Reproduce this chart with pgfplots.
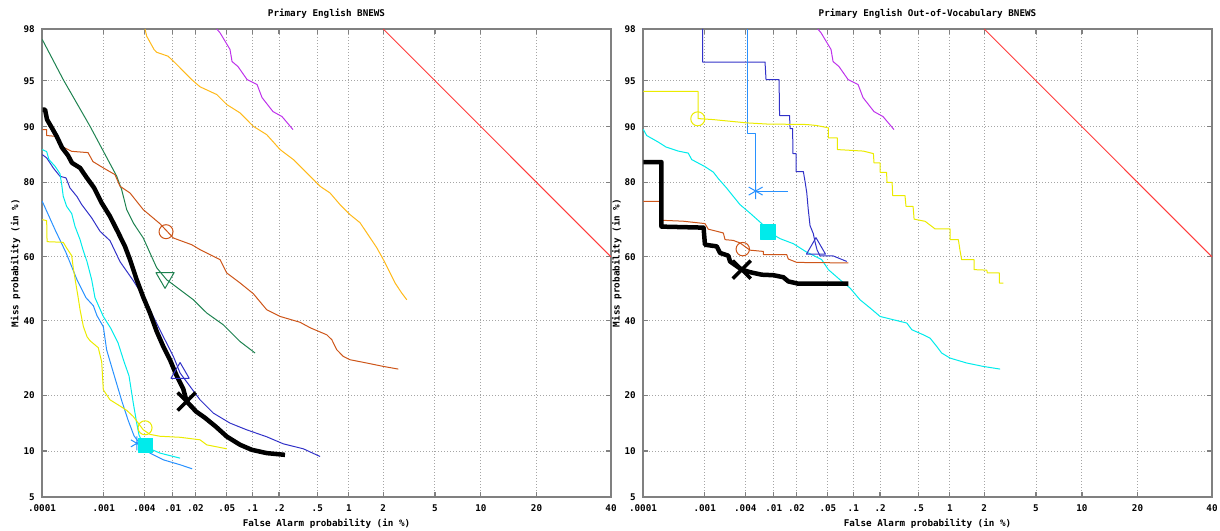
\documentclass[border=0pt]{standalone}
\usepackage{fontspec}
\setmainfont{DejaVu Sans Mono}
\usepackage{pgfplots}
\pgfplotsset{compat=1.18}
\usepackage{pgfplotstable}

% DET curves: both axes are normal deviates (probit of the probability)
\definecolor{framegray}{RGB}{128,128,128}
\definecolor{gridgray}{RGB}{165,165,165}
\definecolor{chance}{RGB}{255,60,60}
\definecolor{detpurple}{RGB}{190,50,235}
\definecolor{detorange}{RGB}{255,185,25}
\definecolor{detgreen}{RGB}{30,130,80}
\definecolor{detbrown}{RGB}{205,85,25}
\definecolor{detnavy}{RGB}{50,50,200}
\definecolor{detcyan}{RGB}{0,235,235}
\definecolor{detsky}{RGB}{40,145,255}
\definecolor{detyellow}{RGB}{235,235,0}

\newcommand\detfont{\fontsize{9.3}{11}\selectfont\bfseries}

\pgfplotstableread{
x y
-2.054 2.054
-0.253 0.253
}\chanceline

\pgfplotstableread{
x y
-3.371 2.054
-3.345 2.024
-3.266 1.892
-3.250 1.797
-3.203 1.757
-3.131 1.654
-3.052 1.615
-3.013 1.512
-2.926 1.401
-2.855 1.362
-2.768 1.259
}\purpledet

\pgfplotsset{
  detaxis/.style={
    width=569bp, height=468bp, scale only axis, anchor=south west,
    xmin=-4.753, xmax=-0.253, ymin=-1.645, ymax=2.054,
    xtick={-4.753,-4.265,-3.944,-3.719,-3.540,-3.291,-3.090,-2.878,-2.576,-2.326,-2.054,-1.645,-1.282,-0.842,-0.253},
    xticklabels={.0001,.001,.004,.01,.02,.05,.1,.2,.5,1,2,5,10,20,40},
    ytick={-1.645,-1.282,-0.842,-0.253,0.253,0.842,1.282,1.645,2.054},
    yticklabels={5,10,20,40,60,80,90,95,98},
    grid=major,
    grid style={draw=gridgray, line width=1bp, dash pattern=on 1bp off 2bp},
    axis line style={draw=framegray, line width=1.5bp},
    tick align=inside, major tick length=5bp,
    tick style={draw=framegray, line width=1.2bp},
    xticklabel style={font=\detfont, anchor=base, inner sep=0pt, yshift=-14bp},
    yticklabel style={font=\detfont, anchor=east, inner sep=0pt, xshift=-7bp},
    xlabel={False Alarm probability (in \%)},
    ylabel={Miss probability (in \%)},
    every axis x label/.style={at={(axis description cs:0.5,0)}, anchor=base, yshift=-29bp, font=\detfont},
    every axis y label/.style={at={(axis description cs:-0.0413,0.5)}, rotate=90, anchor=base, font=\detfont},
    title style={at={(axis description cs:0.5,1)}, anchor=base, yshift=7bp, font=\detfont},
    every axis plot/.append style={line join=round},
  },
}

\begin{document}
\begin{tikzpicture}

% ---------------- left panel ----------------
\begin{axis}[detaxis, at={(42bp,34bp)}, title={Primary English BNEWS}]
\addplot[chance, line width=1bp] table {\chanceline};
\addplot[detpurple, line width=1bp] table {\purpledet};
\addplot[detorange, line width=1bp] coordinates {
(-3.938,2.054) (-3.925,1.997) (-3.867,1.892) (-3.846,1.870) (-3.756,1.839)
(-3.701,1.787) (-3.569,1.654) (-3.503,1.597) (-3.371,1.536) (-3.292,1.457)
(-3.187,1.391) (-3.082,1.285) (-2.976,1.219) (-2.870,1.101) (-2.765,1.022)
(-2.659,0.917) (-2.554,0.811) (-2.475,0.758) (-2.396,0.666) (-2.317,0.587)
(-2.238,0.523) (-2.185,0.444) (-2.106,0.326) (-2.053,0.231) (-2.000,0.126)
(-1.961,0.047) (-1.908,-0.033) (-1.868,-0.086)};
\addplot[detgreen, line width=1bp] coordinates {
(-4.751,1.971) (-4.585,1.654) (-4.373,1.285) (-4.162,0.890) (-4.123,0.784)
(-4.083,0.626) (-4.031,0.521) (-3.952,0.402) (-3.899,0.284) (-3.846,0.167)
(-3.767,0.072) (-3.661,-0.007) (-3.556,-0.086) (-3.450,-0.191) (-3.319,-0.284)
(-3.187,-0.416) (-3.068,-0.507)};
\addplot[detbrown, line width=1bp] coordinates {
(-4.751,1.259) (-4.716,1.259) (-4.716,1.212) (-4.650,1.206) (-4.597,1.127)
(-4.518,1.087) (-4.389,1.077) (-4.350,1.006) (-4.268,0.956) (-4.176,0.903)
(-4.136,0.811) (-4.057,0.758) (-3.952,0.626) (-3.820,0.515) (-3.714,0.402)
(-3.569,0.349) (-3.503,0.310) (-3.345,0.231) (-3.292,0.126) (-3.187,0.047)
(-3.082,-0.038) (-2.976,-0.165) (-2.870,-0.218) (-2.712,-0.264) (-2.633,-0.307)
(-2.501,-0.363) (-2.461,-0.402) (-2.422,-0.481) (-2.370,-0.534) (-2.317,-0.560)
(-2.185,-0.586) (-2.053,-0.613) (-1.935,-0.634)};
\addplot[detnavy, line width=1bp] coordinates {
(-4.751,1.061) (-4.716,1.035) (-4.690,0.996) (-4.664,0.956) (-4.611,0.890)
(-4.563,0.877) (-4.532,0.798) (-4.476,0.729) (-4.439,0.666) (-4.360,0.561)
(-4.294,0.455) (-4.215,0.381) (-4.136,0.215) (-4.031,0.065) (-3.952,-0.060)
(-3.873,-0.218) (-3.794,-0.376) (-3.714,-0.534) (-3.661,-0.665) (-3.582,-0.771)
(-3.503,-0.877) (-3.398,-0.982) (-3.266,-1.061) (-3.134,-1.114) (-2.976,-1.169)
(-2.844,-1.225) (-2.686,-1.264) (-2.554,-1.325)};
\addplot[detcyan, line width=1bp] coordinates {
(-4.751,1.101) (-4.716,1.085) (-4.698,1.022) (-4.650,0.969) (-4.611,0.911)
(-4.597,0.824) (-4.585,0.732) (-4.558,0.652) (-4.518,0.595) (-4.492,0.494)
(-4.452,0.389) (-4.429,0.310) (-4.397,0.215) (-4.360,0.072) (-4.334,-0.070)
(-4.268,-0.218) (-4.207,-0.315) (-4.152,-0.426) (-4.104,-0.576) (-4.065,-0.687)
(-4.031,-0.903) (-4.004,-1.061) (-3.986,-1.154) (-3.954,-1.225) (-3.899,-1.264)
(-3.820,-1.298) (-3.661,-1.338)};
\addplot[detsky, line width=1bp] coordinates {
(-4.751,0.692) (-4.650,0.468) (-4.563,0.286) (-4.476,0.072) (-4.405,-0.070)
(-4.347,-0.133) (-4.318,-0.212) (-4.268,-0.299) (-4.242,-0.481) (-4.207,-0.600)
(-4.160,-0.758) (-4.120,-0.892) (-4.073,-1.035) (-4.025,-1.162) (-3.978,-1.225)
(-3.899,-1.298) (-3.794,-1.351) (-3.661,-1.390) (-3.566,-1.422)};
\addplot[detyellow, line width=1bp] coordinates {
(-4.751,0.547) (-4.716,0.539) (-4.713,0.373) (-4.585,0.368) (-4.555,0.318)
(-4.518,0.262) (-4.506,0.167) (-4.484,0.033) (-4.468,-0.062) (-4.452,-0.165)
(-4.426,-0.297) (-4.397,-0.378) (-4.373,-0.410) (-4.308,-0.465) (-4.281,-0.576)
(-4.268,-0.798) (-4.215,-0.877) (-4.152,-0.916) (-4.083,-0.960) (-4.031,-1.009)
(-3.952,-1.114) (-3.899,-1.150) (-3.820,-1.165) (-3.661,-1.173) (-3.503,-1.193)
(-3.450,-1.233) (-3.292,-1.264)};
\addplot[black, line width=4.5bp] coordinates {
(-4.749,1.417) (-4.729,1.417) (-4.713,1.338) (-4.682,1.285) (-4.637,1.206)
(-4.595,1.117) (-4.547,1.054) (-4.516,0.996) (-4.452,0.956) (-4.405,0.887)
(-4.342,0.800) (-4.281,0.679) (-4.215,0.573) (-4.149,0.442) (-4.097,0.336)
(-4.057,0.231) (-4.004,0.072) (-3.952,-0.066) (-3.899,-0.191) (-3.846,-0.336)
(-3.794,-0.455) (-3.741,-0.560) (-3.688,-0.687) (-3.636,-0.790) (-3.609,-0.890)
(-3.535,-0.969) (-3.464,-1.019) (-3.377,-1.090) (-3.292,-1.167) (-3.187,-1.232)
(-3.094,-1.272) (-2.976,-1.298) (-2.831,-1.312)};
% decision points
\addplot[only marks, mark=triangle, mark size=10.5bp, mark options={detgreen, line width=1bp, rotate=180}] coordinates {(-3.780,0.087)};
\addplot[only marks, mark=o, mark size=7bp, mark options={detbrown, line width=1bp}] coordinates {(-3.772,0.452)};
\addplot[only marks, mark=triangle, mark size=10.5bp, mark options={detnavy, line width=1bp}] coordinates {(-3.661,-0.665)};
\addplot[only marks, mark=asterisk, mark size=7bp, mark options={detsky, line width=1bp}] coordinates {(-4.002,-1.221)};
\addplot[only marks, mark=square*, mark size=7bp, mark options={detcyan, fill=detcyan}] coordinates {(-3.934,-1.237)};
\addplot[only marks, mark=o, mark size=7bp, mark options={detyellow, line width=1bp}] coordinates {(-3.938,-1.098)};
\addplot[only marks, mark=x, mark size=12.7bp, mark options={black, line width=3.5bp}] coordinates {(-3.609,-0.890)};
\end{axis}

% ---------------- right panel ----------------
\begin{axis}[detaxis, at={(643bp,34bp)}, title={Primary English Out-of-Vocabulary BNEWS}]
\addplot[chance, line width=1bp] table {\chanceline};
\addplot[detpurple, line width=1bp] table {\purpledet};
\addplot[detnavy, line width=1bp] coordinates {
(-4.281,2.054) (-4.281,1.793) (-3.788,1.793) (-3.780,1.654) (-3.677,1.654)
(-3.673,1.370) (-3.594,1.370) (-3.590,1.267) (-3.570,1.267) (-3.567,1.069)
(-3.543,1.069) (-3.543,0.927) (-3.485,0.927) (-3.472,0.852) (-3.458,0.761)
(-3.446,0.626) (-3.432,0.500) (-3.406,0.436) (-3.393,0.373) (-3.377,0.310)
(-3.353,0.260) (-3.248,0.260) (-3.142,0.217)};
\addplot[detsky, line width=1bp] coordinates {
(-3.926,2.054) (-3.926,1.227) (-3.862,1.227) (-3.862,0.773) (-3.604,0.773)};
\addplot[detyellow, line width=1bp] coordinates {
(-4.751,1.560) (-4.318,1.560) (-4.318,1.346) (-4.199,1.338) (-3.933,1.312)
(-3.775,1.303) (-3.458,1.299) (-3.379,1.291) (-3.287,1.273) (-3.287,1.193)
(-3.216,1.193) (-3.216,1.101) (-3.010,1.089) (-2.931,1.069) (-2.926,0.996)
(-2.878,0.996) (-2.878,0.921) (-2.827,0.921) (-2.823,0.842) (-2.783,0.842)
(-2.778,0.737) (-2.681,0.737) (-2.673,0.652) (-2.617,0.652) (-2.609,0.551)
(-2.522,0.534) (-2.443,0.474) (-2.325,0.474) (-2.325,0.389) (-2.259,0.389)
(-2.246,0.304) (-2.233,0.231) (-2.135,0.231) (-2.135,0.152) (-2.034,0.148)
(-2.030,0.126) (-1.935,0.126) (-1.935,0.046) (-1.903,0.046)};
\addplot[detcyan, line width=1bp] coordinates {
(-4.751,1.261) (-4.724,1.212) (-4.632,1.160) (-4.571,1.121) (-4.474,1.089)
(-4.395,1.073) (-4.368,1.022) (-4.263,0.966) (-4.197,0.923) (-4.157,0.871)
(-4.091,0.796) (-4.039,0.731) (-3.986,0.666) (-3.907,0.599) (-3.814,0.516)
(-3.764,0.452) (-3.669,0.397) (-3.564,0.357) (-3.458,0.290) (-3.340,0.231)
(-3.287,0.152) (-3.195,0.072) (-3.116,0.007) (-3.037,-0.086) (-2.957,-0.151)
(-2.878,-0.218) (-2.773,-0.244) (-2.720,-0.257) (-2.667,-0.270) (-2.627,-0.323)
(-2.536,-0.363) (-2.483,-0.389) (-2.430,-0.455) (-2.391,-0.507) (-2.325,-0.547)
(-2.193,-0.586) (-2.062,-0.613) (-1.929,-0.634)};
\addplot[detbrown, line width=1bp] coordinates {
(-4.751,0.692) (-4.613,0.692) (-4.605,0.542) (-4.437,0.535) (-4.263,0.516)
(-4.237,0.472) (-4.118,0.442) (-4.104,0.389) (-4.039,0.383) (-3.986,0.363)
(-3.907,0.306) (-3.801,0.296) (-3.801,0.270) (-3.616,0.270) (-3.604,0.236)
(-3.537,0.209) (-3.129,0.205)};
\addplot[black, line width=4.5bp] coordinates {
(-4.751,1.002) (-4.607,1.002) (-4.607,0.492) (-4.274,0.484) (-4.263,0.349)
(-4.170,0.336) (-4.144,0.284) (-4.078,0.262) (-4.065,0.217) (-3.972,0.152)
(-3.907,0.132) (-3.814,0.112) (-3.722,0.108) (-3.643,0.092) (-3.604,0.059)
(-3.525,0.041) (-3.129,0.041)};
% decision points
\addplot[only marks, mark=triangle, mark size=11bp, mark options={detnavy, line width=1bp}] coordinates {(-3.385,0.318)};
\addplot[only marks, mark=asterisk, mark size=8bp, mark options={detsky, line width=1bp}] coordinates {(-3.862,0.773)};
\addplot[only marks, mark=o, mark size=7bp, mark options={detyellow, line width=1bp}] coordinates {(-4.320,1.344)};
\addplot[only marks, mark=square*, mark size=7.5bp, mark options={detcyan, fill=detcyan}] coordinates {(-3.768,0.454)};
\addplot[only marks, mark=o, mark size=6.7bp, mark options={detbrown, line width=1bp}] coordinates {(-3.964,0.314)};
\addplot[only marks, mark=x, mark size=12.7bp, mark options={black, line width=3.5bp}] coordinates {(-3.972,0.152)};
\end{axis}

\pgfresetboundingbox
\path[use as bounding box] (0,0) rectangle (1220bp,531bp);
\end{tikzpicture}
\end{document}
